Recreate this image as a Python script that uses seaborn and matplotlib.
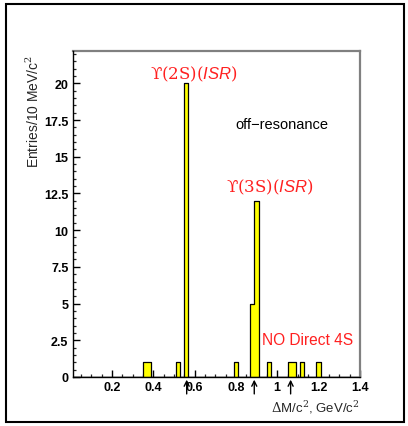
import numpy as np
import pandas as pd
import matplotlib
matplotlib.use("Agg")
import matplotlib.pyplot as plt
from matplotlib.patches import Rectangle
from matplotlib.ticker import MultipleLocator, FixedLocator
import seaborn as sns

# Histogram content: bin centres (GeV/c^2) and entries per bin
bin_centers = [0.36, 0.38, 0.52, 0.56, 0.80, 0.88, 0.90, 0.96, 1.06, 1.08, 1.12, 1.20]
entries = [1, 1, 1, 20, 1, 5, 12, 1, 1, 1, 1, 1]
bin_width = 0.02
hist_range = (0.01, 1.41)

# Expected mass-difference positions marked under the axis
marker_positions = [0.562, 0.889, 1.065]

x_ticks = [0.2, 0.4, 0.6, 0.8, 1.0, 1.2, 1.4]
x_tick_labels = ["0.2", "0.4", "0.6", "0.8", "1", "1.2", "1.4"]
y_ticks = [0, 2.5, 5, 7.5, 10, 12.5, 15, 17.5, 20]
y_tick_labels = ["0", "2.5", "5", "7.5", "10", "12.5", "15", "17.5", "20"]

sns.set_style("white")
plt.rcParams["font.family"] = ["Liberation Sans", "DejaVu Sans"]
plt.rcParams["mathtext.fontset"] = "custom"
plt.rcParams["mathtext.rm"] = "DejaVu Serif"
plt.rcParams["mathtext.it"] = "Liberation Sans:italic"
plt.rcParams["mathtext.sf"] = "Liberation Sans"

fig = plt.figure(figsize=(4.08, 4.27), dpi=100)
ax = fig.add_axes([0.178, 0.115, 0.704, 0.763])

df = pd.DataFrame({"dm": bin_centers, "n": entries})
sns.histplot(data=df, x="dm", weights="n", binwidth=bin_width,
             binrange=hist_range, element="step", ax=ax,
             color="#ffff00", edgecolor="black", linewidth=0.9, alpha=1.0)

ax.set_xlim(0.01, 1.4)
ax.set_ylim(0, 22.2)

ax.xaxis.set_major_locator(FixedLocator(x_ticks))
ax.set_xticklabels(x_tick_labels)
ax.xaxis.set_minor_locator(MultipleLocator(0.05))
ax.yaxis.set_major_locator(FixedLocator(y_ticks))
ax.set_yticklabels(y_tick_labels)
ax.yaxis.set_minor_locator(MultipleLocator(0.5))

ax.tick_params(axis="both", which="both", bottom=True, left=True,
               top=False, right=False)
ax.tick_params(axis="both", which="major", direction="in", length=5, width=1.0,
               labelsize=9, pad=3, colors="black")
ax.tick_params(axis="both", which="minor", direction="in", length=2.5, width=0.9)
for lbl in ax.get_xticklabels() + ax.get_yticklabels():
    lbl.set_fontweight("bold")

for side in ["left", "bottom"]:
    ax.spines[side].set_color("black")
    ax.spines[side].set_linewidth(1.0)
    ax.spines[side].set_zorder(5)
for side in ["top", "right"]:
    ax.spines[side].set_color("#808080")
    ax.spines[side].set_linewidth(1.6)

ax.set_xlabel("")
ax.set_ylabel("")
fig.text(0.882, 0.045, r"$\Delta$M/c$^2$, GeV/c$^2$", ha="right", va="center",
         fontsize=9.5)
fig.text(0.081, 0.738, r"Entries/10 MeV/c$^2$", rotation=90, ha="center",
         va="center", fontsize=10)

red = "#ff2020"
ax.text(0.598, 20.65, "$\\mathrm{\u03d2(2S)(}\\mathit{ISR}\\mathrm{)}$",
        color=red, fontsize=12, ha="center", va="center")
ax.text(0.962, 13.0, "$\\mathrm{\u03d2(3S)(}\\mathit{ISR}\\mathrm{)}$",
        color=red, fontsize=12, ha="center", va="center")
ax.text(0.80, 17.2, "off\u2212resonance", color="black", fontsize=10.5,
        ha="left", va="center")
ax.text(0.926, 2.57, "NO Direct 4S", color=red, fontsize=11.2,
        ha="left", va="center")

for xm in marker_positions:
    ax.annotate("", xy=(xm, 0.0), xytext=(xm, -1.35),
                arrowprops=dict(arrowstyle="->", color="black", lw=1.0,
                                mutation_scale=9),
                annotation_clip=False)

# Frame around the whole canvas
fig.add_artist(Rectangle((6 / 408, 4 / 427), 398 / 408, 418 / 427,
                         transform=fig.transFigure, fill=False,
                         edgecolor="black", linewidth=1.5))

fig.savefig("out.png", dpi=100)
